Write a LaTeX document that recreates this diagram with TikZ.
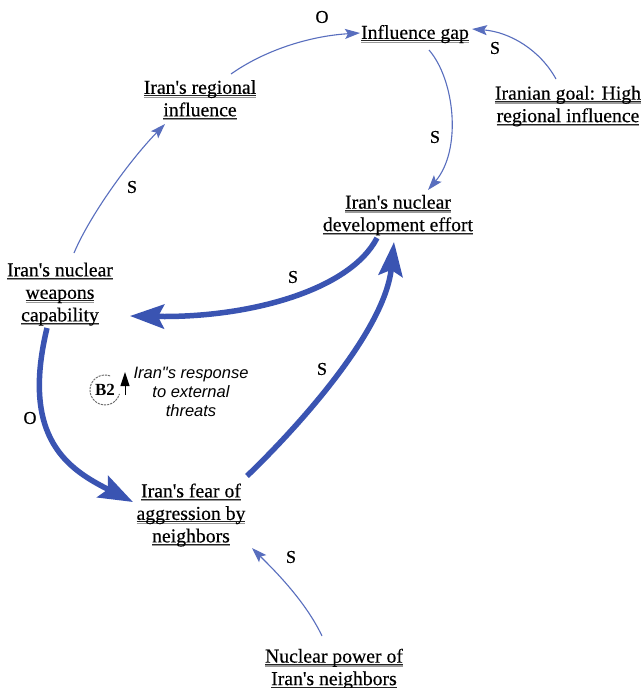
\documentclass[tikz,border=0pt]{standalone}
\usepackage{fontspec}
\setmainfont{Liberation Serif}
\newfontfamily\varfont{Liberation Serif}[FakeBold=0.35]
\newfontfamily\notefont{Liberation Sans}
\usetikzlibrary{arrows.meta}
\definecolor{cldblue}{RGB}{58,84,178}
\newcommand\ulx[1]{\setbox0=\hbox{\rule{0pt}{14pt}#1}\rlap{\color{black!85}\rule[-2.4pt]{\wd0}{0.9pt}}\rlap{\color{black!40}\rule[-3.9pt]{\wd0}{1.2pt}}\box0}
\tikzset{
  var/.style={align=center, inner sep=1pt, font=\varfont\fontsize{19.7}{22.5}\selectfont},
  pol/.style={font=\varfont\fontsize{18}{20}\selectfont, inner sep=0pt},
  thinlink/.style={draw=cldblue!85, line width=1.1pt, -{Stealth[length=15pt,width=10pt,inset=3pt]}},
  thicklink/.style={draw=cldblue, line width=5.5pt, -{Stealth[length=34pt,width=24pt,inset=6pt]}},
  looparc/.style={draw=black!60, line width=0.9pt, dash pattern=on 2.2pt off 1pt},
}
\begin{document}
\begin{tikzpicture}[x=1pt,y=-1pt]
\useasboundingbox[fill=white] (0,0) rectangle (644,688);

% variables
\node[var] (gap) at (415,34) {\ulx{Influence gap}};
\node[var] (reg) at (200,100) {\ulx{Iran\textquotesingle s regional}\\\ulx{influence}};
\node[var] (goal) at (568,106) {\ulx{Iranian goal: High}\\\ulx{regional influence}};
\node[var] (dev) at (398,215) {\ulx{Iran\textquotesingle s nuclear}\\\ulx{development effort}};
\node[var] (wpn) at (60,294) {\ulx{Iran\textquotesingle s nuclear}\\\ulx{weapons}\\\ulx{capability}};
\node[var] (fear) at (191,515) {\ulx{Iran\textquotesingle s fear of}\\\ulx{aggression by}\\\ulx{neighbors}};
\node[var] (npow) at (334,669) {\ulx{Nuclear power of}\\\ulx{Iran\textquotesingle s neighbors}};

% links
\draw[thinlink] ([shift={(31,-26)}]reg.center) .. controls (265,50) and (310,36) .. ([shift={(-55,-1)}]gap.center);
\draw[thinlink] ([shift={(-12,-27)}]goal.center) .. controls (540,50) and (510,32) .. ([shift={(57,-5)}]gap.center);
\draw[thinlink] ([shift={(14,16)}]gap.center) .. controls (455,80) and (462,150) .. ([shift={(30,-25)}]dev.center);
\draw[thinlink] ([shift={(14,-41)}]wpn.center) .. controls (90,215) and (130,160) .. ([shift={(-35,24)}]reg.center);
\draw[thicklink] ([shift={(-21,23)}]dev.center) .. controls (350,290) and (250,318) .. ([shift={(70,22)}]wpn.center);
\draw[thicklink] ([shift={(-13,34)}]wpn.center) .. controls (20,440) and (70,470) .. ([shift={(-58,-13)}]fear.center);
\draw[thicklink] ([shift={(56,-39)}]fear.center) .. controls (300,425) and (385,330) .. ([shift={(-4,27)}]dev.center);
\draw[thinlink] ([shift={(-12,-33)}]npow.center) .. controls (305,600) and (272,568) .. ([shift={(61,33)}]fear.center);

% polarities
\node[pol] (p1) at (322,17) {O};
\node[pol] (p2) at (495,48) {S};
\node[pol] (p3) at (435,137) {S};
\node[pol] (p4) at (132,187) {S};
\node[pol] (p5) at (293,277) {S};
\node[pol] (p6) at (30,418) {O};
\node[pol] (p7) at (322,369) {S};
\node[pol] (p8) at (291,557) {S};

% loop marker
\node[font=\fontsize{17}{17}\selectfont\bfseries, inner sep=0pt] (b2) at (105,390) {B2};
\draw[looparc] ([shift={(70:15pt)}]b2.center) arc[start angle=70, end angle=345, radius=15pt];
\draw[black, line width=1pt, -{Triangle[length=14pt,width=9pt]}] ([shift={(20,5)}]b2.center) -- ([shift={(20,-18)}]b2.center);
\node[font=\notefont\itshape\fontsize{16.5}{19}\selectfont, align=center, inner sep=0pt] (note) at (191,392) {Iran"s response\\to external\\threats};
\end{tikzpicture}
\end{document}
